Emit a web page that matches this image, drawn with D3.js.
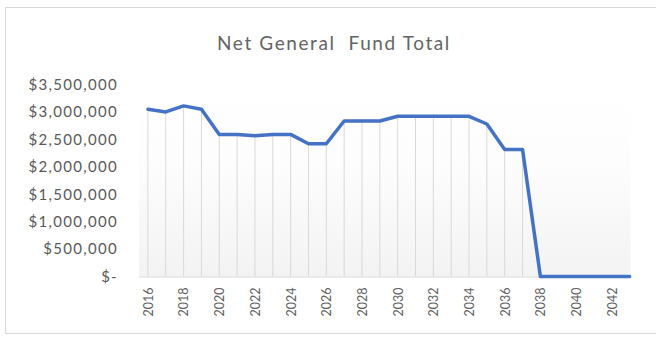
<!DOCTYPE html>
<html>
<head>
<meta charset="utf-8">
<script src="https://cdn.jsdelivr.net/npm/d3@7"></script>
<style>
  html, body { margin: 0; padding: 0; background: #fff; }
  svg { display: block; }
  text { font-family: Lato, "Open Sans", sans-serif; fill: #595959; }
</style>
</head>
<body>
<svg id="chart" width="656" height="337"></svg>
<script>
// Net General Fund total by fiscal year
const years = d3.range(2016, 2044);
const fundTotal = [
  3050000, 3000000, 3110000, 3050000, 2590000, 2590000, 2565000, 2590000,
  2590000, 2420000, 2420000, 2835000, 2835000, 2835000, 2920000, 2920000,
  2920000, 2920000, 2920000, 2780000, 2315000, 2315000,
  0, 0, 0, 0, 0, 0
];
const yTicks = [0, 500000, 1000000, 1500000, 2000000, 2500000, 3000000, 3500000];
const xTickLabels = d3.range(2016, 2043, 2);
const chartTitle = "Net General\u00a0 Fund Total";

const data = years.map((yr, i) => ({ year: yr, value: fundTotal[i] }));

const svg = d3.select("#chart");
const W = 656, H = 337;
const plot = { left: 139, right: 638.5, top: 84.5, bottom: 276.5 };

// outer chart frame
svg.append("rect")
  .attr("x", 5.5).attr("y", 7.5)
  .attr("width", W + 10).attr("height", 326)
  .attr("fill", "#fff").attr("stroke", "#d9d9d9").attr("stroke-width", 1);

const defs = svg.append("defs");
const grad = defs.append("linearGradient")
  .attr("id", "plotFill").attr("x1", 0).attr("y1", 0).attr("x2", 0).attr("y2", 1);
grad.append("stop").attr("offset", "0%").attr("stop-color", "#ffffff");
grad.append("stop").attr("offset", "40%").attr("stop-color", "#fdfdfd");
grad.append("stop").attr("offset", "100%").attr("stop-color", "#f3f3f3");

const x = d3.scalePoint()
  .domain(years)
  .range([plot.left, plot.right])
  .padding(0.5);

const y = d3.scaleLinear()
  .domain([0, 3500000])
  .range([plot.bottom, plot.top]);

// plot area background
svg.append("rect")
  .attr("x", plot.left).attr("y", plot.top)
  .attr("width", x(2043) - plot.left + 1).attr("height", plot.bottom - plot.top)
  .attr("fill", "url(#plotFill)");

// title
svg.append("text")
  .attr("x", 334).attr("y", 50)
  .attr("text-anchor", "middle")
  .style("font-size", "19px")
  .style("letter-spacing", "1.6px")
  .style("fill", "#646464")
  .text(chartTitle);

// drop lines from each point down to the category axis
svg.append("g")
  .selectAll("line")
  .data(data.filter(d => d.value > 0))
  .join("line")
  .attr("x1", d => x(d.year)).attr("x2", d => x(d.year))
  .attr("y1", d => y(d.value)).attr("y2", y(0))
  .attr("stroke", "#d9d9d9").attr("stroke-width", 1);

// category axis line
svg.append("line")
  .attr("x1", plot.left).attr("x2", x(2043) + 2)
  .attr("y1", y(0) + 0.5).attr("y2", y(0) + 0.5)
  .attr("stroke", "#d9d9d9").attr("stroke-width", 1);

// value axis
const fmtMoney = v => v === 0 ? "$-" : "$" + d3.format(",")(v);
const yAxis = d3.axisLeft(y)
  .tickValues(yTicks)
  .tickSize(0)
  .tickPadding(0)
  .tickFormat(fmtMoney);
const gy = svg.append("g")
  .attr("transform", "translate(118,0)")
  .call(yAxis);
gy.select(".domain").remove();
gy.selectAll("text")
  .attr("dy", "0.32em")
  .style("font-size", "15px")
  .style("letter-spacing", "1.3px")
  .style("fill", "#595959")
  .style("font-family", "Lato, 'Open Sans', sans-serif");

// category axis labels (every other year, rotated)
const xAxis = d3.axisBottom(x)
  .tickValues(xTickLabels)
  .tickSize(0)
  .tickFormat(d => String(d));
const gx = svg.append("g")
  .attr("transform", `translate(0,${plot.bottom})`)
  .call(xAxis);
gx.select(".domain").remove();
gx.selectAll("text")
  .attr("transform", "rotate(-90)")
  .attr("x", -11)
  .attr("y", 0)
  .attr("dy", "0.35em")
  .attr("text-anchor", "end")
  .style("font-size", "12.5px")
  .style("fill", "#5f5f5f")
  .style("font-family", "Lato, 'Open Sans', sans-serif");

// series line
const line = d3.line()
  .x(d => x(d.year))
  .y(d => y(d.value));
svg.append("path")
  .datum(data)
  .attr("d", line)
  .attr("fill", "none")
  .attr("stroke", "#4472c4")
  .attr("stroke-width", 3.5)
  .attr("stroke-linejoin", "round")
  .attr("stroke-linecap", "round");
</script>
</body>
</html>
